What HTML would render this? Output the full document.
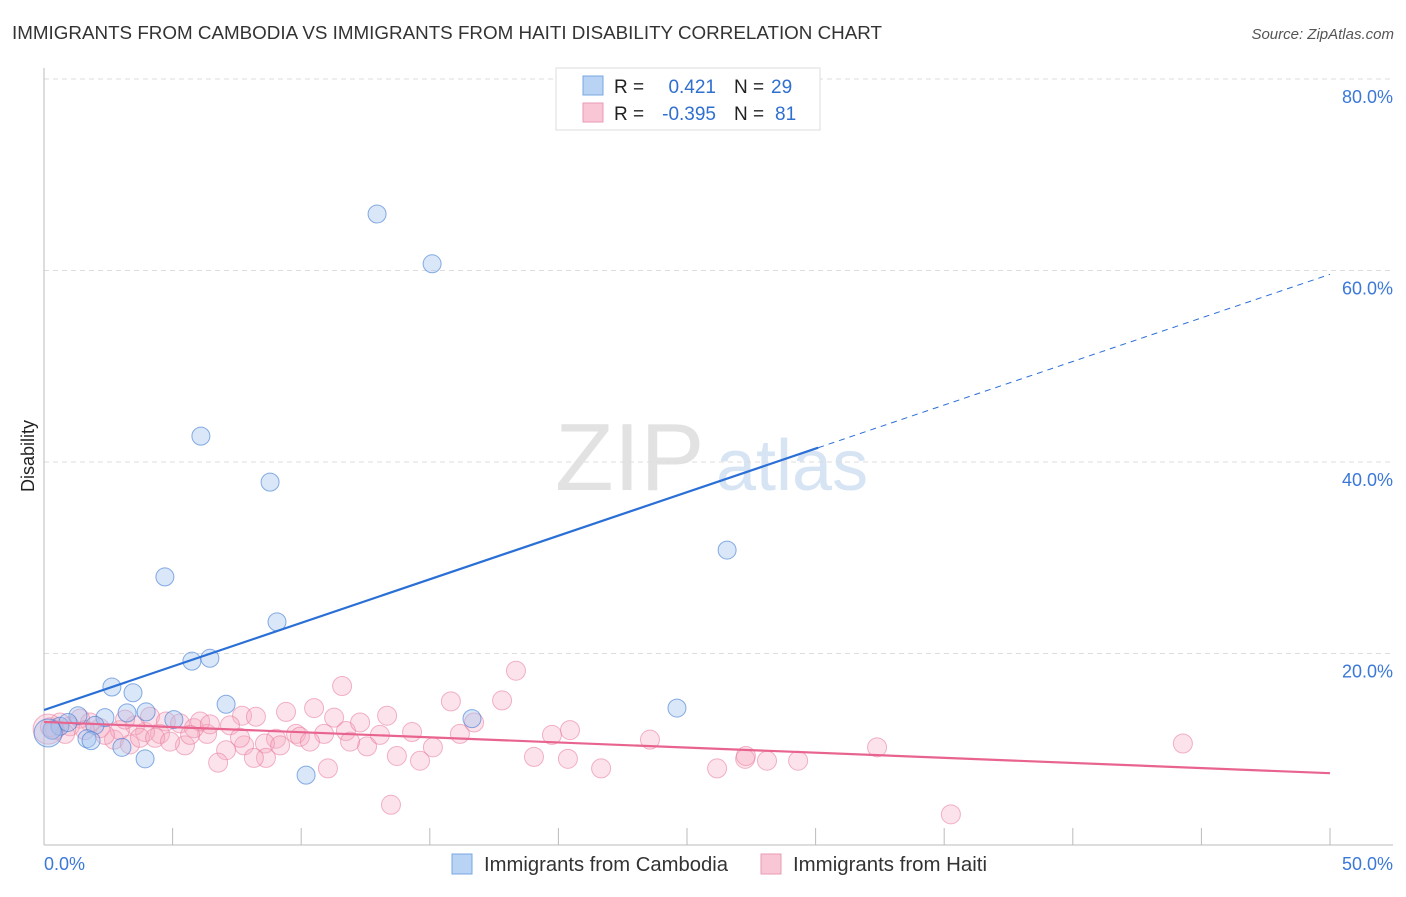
<!DOCTYPE html>
<html><head><meta charset="utf-8"><style>
body{margin:0;background:#fff;font-family:"Liberation Sans",sans-serif;}
svg text{font-family:"Liberation Sans",sans-serif;}
</style></head><body>
<svg width="1406" height="892" xmlns="http://www.w3.org/2000/svg" id="chart">
<text x="12" y="39" font-size="18" fill="#333" textLength="870" lengthAdjust="spacingAndGlyphs">IMMIGRANTS FROM CAMBODIA VS IMMIGRANTS FROM HAITI DISABILITY CORRELATION CHART</text>
<text x="1394" y="39" font-size="15" fill="#555" font-style="italic" text-anchor="end">Source: ZipAtlas.com</text>
<text x="34" y="456" font-size="18" fill="#222" transform="rotate(-90 34 456)" text-anchor="middle">Disability</text>
<g><text x="555" y="490" font-size="96" fill="#e2e2e2" font-family="Liberation Serif,serif">ZIP</text><text x="716" y="490" font-size="72" fill="#d6e4f4">atlas</text></g>
<g id="grid"></g>
<g id="axes"></g>
<g id="pts"></g>
<g id="lines"></g>
<g>
<rect x="556" y="68" width="264" height="62" fill="#fff" stroke="#ddd"/>
<rect x="583" y="76" width="20" height="19" fill="#b8d3f4" stroke="#7aa7e0"/>
<rect x="583" y="103" width="20" height="19" fill="#f9c6d5" stroke="#eb9ab3"/>
<text x="614" y="93" font-size="19" fill="#222">R =</text><text x="716" y="93" font-size="19" fill="#2f6fd0" text-anchor="end">0.421</text>
<text x="734" y="93" font-size="19" fill="#222">N =</text><text x="771" y="93" font-size="19" fill="#2f6fd0">29</text>
<text x="614" y="120" font-size="19" fill="#222">R =</text><text x="716" y="120" font-size="19" fill="#2f6fd0" text-anchor="end">-0.395</text>
<text x="734" y="120" font-size="19" fill="#222">N =</text><text x="775" y="120" font-size="19" fill="#2f6fd0">81</text>
</g>
<g>
<rect x="452" y="854" width="20" height="20" fill="#b8d3f4" stroke="#7aa7e0"/>
<text x="484" y="871" font-size="20" fill="#333" textLength="244" lengthAdjust="spacingAndGlyphs">Immigrants from Cambodia</text>
<rect x="761" y="854" width="20" height="20" fill="#f9c6d5" stroke="#eb9ab3"/>
<text x="793" y="871" font-size="20" fill="#333" textLength="194" lengthAdjust="spacingAndGlyphs">Immigrants from Haiti</text>
</g>
</svg>
<script>
const xTicks=[0,5,10,15,20,25,30,35,40,45,50];
const yTicks=[20,40,60,80];
const cambX=[12.95,15.09,6.10,8.79,26.56,4.70,9.06,5.75,6.45,2.64,3.46,7.08,3.97,3.23,1.32,2.37,5.05,16.64,24.61,1.98,0.62,0.31,1.67,1.83,3.03,3.93,10.19,0.16,0.93];
const cambY=[65.9,60.7,42.7,37.9,30.8,28.0,23.3,19.2,19.5,16.5,15.9,14.7,13.9,13.8,13.5,13.3,13.1,13.2,14.3,12.5,12.4,12.0,11.1,10.9,10.2,9.0,7.3,11.7,12.8];
const haitiX=[18.35,11.59,15.82,17.81,10.50,9.41,13.34,7.70,8.24,11.28,16.72,20.45,19.75,11.74,14.31,16.17,10.89,9.80,23.56,15.12,32.39,44.28,12.56,11.90,9.95,9.02,8.59,7.78,7.08,6.77,8.63,8.16,11.04,14.62,13.72,19.05,20.37,21.66,26.17,27.26,27.29,28.11,29.32,13.49,35.26,5.48,6.34,4.51,3.93,3.54,4.12,4.74,5.29,5.83,6.07,6.45,2.72,3.34,2.95,2.18,1.79,1.40,1.01,0.62,0.43,0.23,0.82,1.59,2.37,3.15,3.73,4.32,4.90,5.68,7.23,7.62,9.18,10.34,12.29,13.06,0.16];
const haitiY=[18.2,16.6,15.0,15.1,14.3,13.9,13.5,13.5,13.4,13.3,12.8,12.0,11.5,11.9,11.8,11.6,11.6,11.6,11.0,10.2,10.2,10.6,10.3,10.8,11.3,11.1,10.6,10.4,9.9,8.6,9.1,9.1,8.0,8.8,9.3,9.2,9.0,8.0,8.0,9.0,9.3,8.8,8.8,4.2,3.2,10.4,11.6,11.6,11.8,12.5,13.4,12.9,12.7,12.2,12.9,12.6,11.0,10.5,12.0,12.2,12.8,13.2,12.4,12.8,12.0,12.3,11.6,12.0,11.5,13.1,11.2,11.2,10.8,11.5,12.5,11.2,10.4,10.8,12.8,11.5,12.1];
const cambTrend=[14.1,0.91];
const haitiTrend=[12.85,-0.107];
const X=v=>44+v/50*1286;
const Y=v=>845-v/20*191.5;
const NS="http://www.w3.org/2000/svg";
function mk(tag,at,parent){const e=document.createElementNS(NS,tag);for(const k in at)e.setAttribute(k,at[k]);parent.appendChild(e);return e;}
const grid=document.getElementById('grid'),axes=document.getElementById('axes'),pts=document.getElementById('pts'),lines=document.getElementById('lines');
yTicks.forEach(t=>{
 const l=mk('line',{x1:44,x2:1393,y1:Y(t),y2:Y(t),stroke:'#ddd','stroke-dasharray':'5,4'},grid);
 
 
 const tx=mk('text',{x:1393,y:Y(t)+24,'font-size':18,fill:'#3b78d8','text-anchor':'end'},axes);
 tx.textContent=t.toFixed(1)+'%';
 
 
});
mk('line',{x1:44,x2:44,y1:68,y2:845,stroke:'#bbb'},axes);
mk('line',{x1:44,x2:1393,y1:845,y2:845,stroke:'#bbb'},axes);
xTicks.forEach(t=>{
 const l=mk('line',{x1:X(t),x2:X(t),y1:828,y2:845,stroke:'#bbb'},axes);
 
 
});
[[0,44,'start'],[50,1393,'end']].forEach(([v,x,a])=>{
 const tx=mk('text',{x:x,y:870,'font-size':18,fill:'#3b78d8','text-anchor':a},axes);
 tx.textContent=v.toFixed(1)+'%';
 
 
});
haitiX.forEach((v,i)=>{
 const c=mk('circle',{cx:X(v),cy:Y(haitiY[i]),r:i==haitiX.length-1?15:9.5,fill:'rgba(246,170,195,0.33)',stroke:'rgba(232,120,155,0.55)','stroke-width':1},pts);
 
 
});
cambX.forEach((v,i)=>{
 const c=mk('circle',{cx:X(v),cy:Y(cambY[i]),r:i==27?14:9,fill:'rgba(160,195,240,0.4)',stroke:'rgba(60,120,210,0.6)','stroke-width':1},pts);
 
 
});
const ct=x=>cambTrend[0]+cambTrend[1]*x, ht=x=>haitiTrend[0]+haitiTrend[1]*x;
const l1=mk('line',{x1:X(0),y1:Y(ct(0)),x2:X(30.1),y2:Y(ct(30.1)),stroke:'#2a6fd6','stroke-width':2.2},lines);


const l2=mk('line',{x1:X(30.1),y1:Y(ct(30.1)),x2:X(50),y2:Y(ct(50)),stroke:'#2a6fd6','stroke-width':1,'stroke-dasharray':'6,5'},lines);


const l3=mk('line',{x1:X(0),y1:Y(ht(0)),x2:X(50),y2:Y(ht(50)),stroke:'#e8648f','stroke-width':2.2},lines);


</script>
</body></html>
